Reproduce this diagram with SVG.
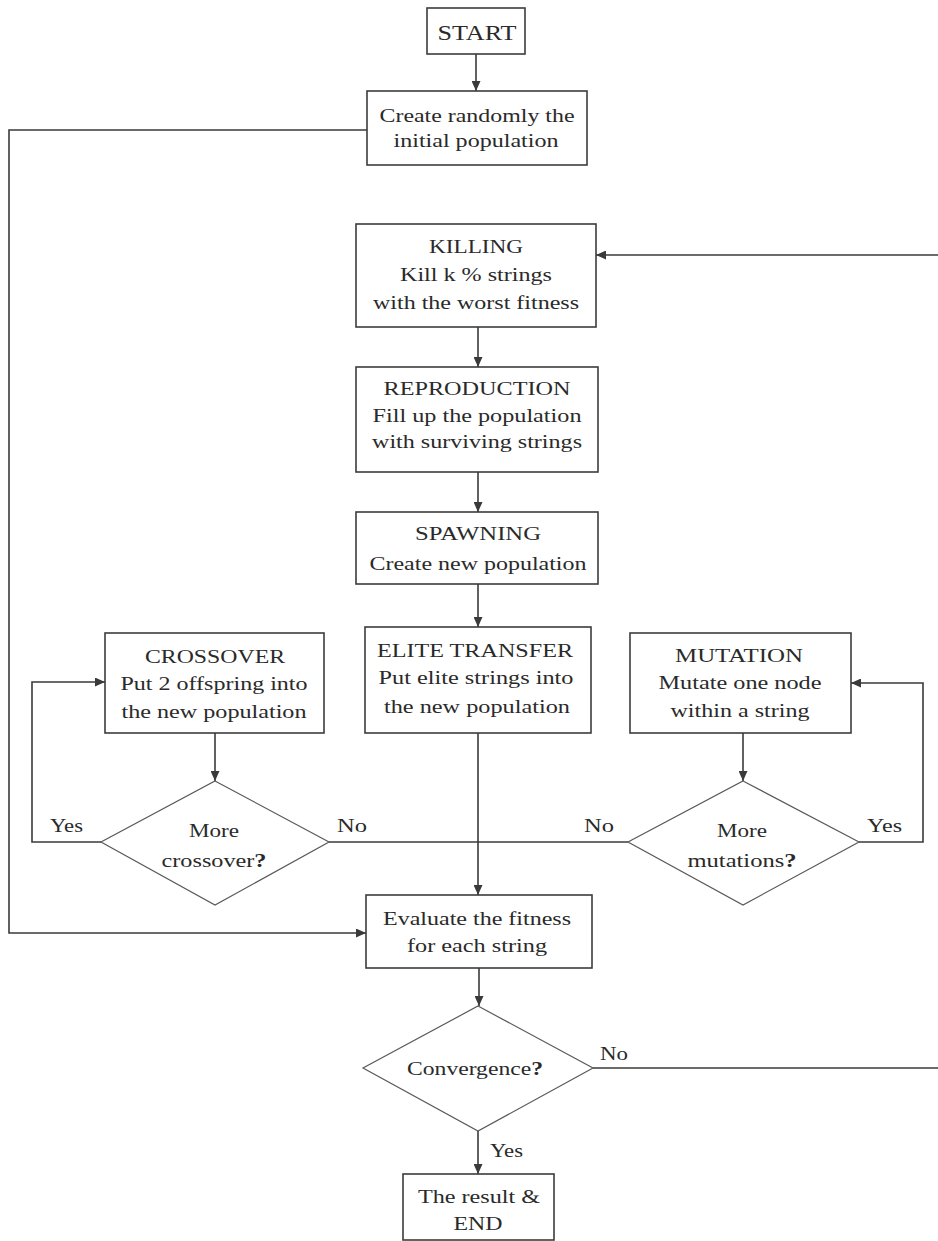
<svg xmlns="http://www.w3.org/2000/svg" width="938" height="1241" viewBox="0 0 938 1241">
<style>
  .box { fill: #ffffff; stroke: #3c3c3c; stroke-width: 1.6; }
  .dia { fill: #ffffff; stroke: #5a5a5a; stroke-width: 1.2; }
  .t { font-family: "Liberation Serif", "Times New Roman", serif; font-size: 19px; fill: #2a2a2a; text-anchor: middle; }
  .lbl { font-family: "Liberation Serif", "Times New Roman", serif; font-size: 19px; fill: #2a2a2a; }
  .q { font-weight: bold; }
  .ln { fill: none; stroke: #3a3a3a; stroke-width: 1.6; }
  .arr { marker-end: url(#ah); }
</style>
<defs>
  <marker id="ah" markerUnits="userSpaceOnUse" markerWidth="11" markerHeight="9" refX="10" refY="4.5" orient="auto">
    <path d="M0,0 L10,4.5 L0,9 z" fill="#3a3a3a"/>
  </marker>
</defs>
<rect width="938" height="1241" fill="#ffffff"/>

<g id="connectors">
  <path class="ln arr" d="M476,54 L476,91"/>
  <path class="ln arr" d="M367,130 L9,130 L9,933 L366,933"/>
  <path class="ln arr" d="M938,255 L596,255"/>
  <path class="ln arr" d="M478,327 L478,367"/>
  <path class="ln arr" d="M478,472 L478,512"/>
  <path class="ln arr" d="M478,584 L478,627"/>
  <path class="ln arr" d="M478,733 L478,895"/>
  <path class="ln arr" d="M215,733 L215,781"/>
  <path class="ln arr" d="M101,842 L32,842 L32,682 L105,682"/>
  <path class="ln" d="M329,842 L628,842"/>
  <path class="ln arr" d="M743,733 L743,781"/>
  <path class="ln arr" d="M859,842 L923,842 L923,683 L851,683"/>
  <path class="ln arr" d="M479,968 L479,1006"/>
  <path class="ln" d="M593,1068 L938,1068"/>
  <path class="ln arr" d="M478,1131 L478,1174"/>
  <text class="lbl" x="50" y="832" textLength="33" lengthAdjust="spacingAndGlyphs">Yes</text>
  <text class="lbl" x="337" y="832" textLength="30" lengthAdjust="spacingAndGlyphs">No</text>
  <text class="lbl" x="584" y="832" textLength="30" lengthAdjust="spacingAndGlyphs">No</text>
  <text class="lbl" x="867" y="832" textLength="35" lengthAdjust="spacingAndGlyphs">Yes</text>
  <text class="lbl" x="600" y="1060" textLength="28" lengthAdjust="spacingAndGlyphs">No</text>
  <text class="lbl" x="490" y="1157" textLength="33" lengthAdjust="spacingAndGlyphs">Yes</text>
</g>

<g id="start">
  <rect class="box" x="427" y="8" width="98" height="46"/>
  <text class="t" x="477" y="40" style="font-size:22px" textLength="79" lengthAdjust="spacingAndGlyphs">START</text>
</g>

<g id="init">
  <rect class="box" x="367" y="91" width="220" height="74"/>
  <text class="t" x="477" y="122" textLength="195" lengthAdjust="spacingAndGlyphs">Create randomly the</text>
  <text class="t" x="476" y="147" textLength="165" lengthAdjust="spacingAndGlyphs">initial population</text>
</g>

<g id="killing">
  <rect class="box" x="356" y="224" width="240" height="103"/>
  <text class="t" x="476" y="253" textLength="94" lengthAdjust="spacingAndGlyphs">KILLING</text>
  <text class="t" x="476" y="281" textLength="152" lengthAdjust="spacingAndGlyphs">Kill k % strings</text>
  <text class="t" x="476" y="309" textLength="206" lengthAdjust="spacingAndGlyphs">with the worst fitness</text>
</g>

<g id="reproduction">
  <rect class="box" x="356" y="367" width="242" height="105"/>
  <text class="t" x="477" y="395" textLength="187" lengthAdjust="spacingAndGlyphs">REPRODUCTION</text>
  <text class="t" x="477" y="422" textLength="209" lengthAdjust="spacingAndGlyphs">Fill up the population</text>
  <text class="t" x="477" y="448" textLength="210" lengthAdjust="spacingAndGlyphs">with surviving strings</text>
</g>

<g id="spawning">
  <rect class="box" x="356" y="512" width="242" height="72"/>
  <text class="t" x="478" y="540" textLength="126" lengthAdjust="spacingAndGlyphs">SPAWNING</text>
  <text class="t" x="478" y="570" textLength="217" lengthAdjust="spacingAndGlyphs">Create new population</text>
</g>

<g id="crossover">
  <rect class="box" x="105" y="633" width="219" height="100"/>
  <text class="t" x="215" y="663" textLength="140" lengthAdjust="spacingAndGlyphs">CROSSOVER</text>
  <text class="t" x="214" y="690" textLength="187" lengthAdjust="spacingAndGlyphs">Put 2 offspring into</text>
  <text class="t" x="214" y="718" textLength="185" lengthAdjust="spacingAndGlyphs">the new population</text>
</g>

<g id="elite">
  <rect class="box" x="365" y="627" width="226" height="106"/>
  <text class="t" x="475" y="657" textLength="196" lengthAdjust="spacingAndGlyphs">ELITE TRANSFER</text>
  <text class="t" x="476" y="684" textLength="195" lengthAdjust="spacingAndGlyphs">Put elite strings into</text>
  <text class="t" x="477" y="713" textLength="186" lengthAdjust="spacingAndGlyphs">the new population</text>
</g>

<g id="mutation">
  <rect class="box" x="630" y="633" width="221" height="100"/>
  <text class="t" x="739" y="662" textLength="128" lengthAdjust="spacingAndGlyphs">MUTATION</text>
  <text class="t" x="740" y="689" textLength="163" lengthAdjust="spacingAndGlyphs">Mutate one node</text>
  <text class="t" x="740" y="717" textLength="139" lengthAdjust="spacingAndGlyphs">within a string</text>
</g>

<g id="more-crossover">
  <polygon class="dia" points="215,781 329,842 215,905 101,842"/>
  <text class="t" x="214" y="837" textLength="50" lengthAdjust="spacingAndGlyphs">More</text>
  <text class="t" x="214" y="867" textLength="105" lengthAdjust="spacingAndGlyphs">crossover<tspan class="q">?</tspan></text>
</g>

<g id="more-mutations">
  <polygon class="dia" points="743,781 859,842 743,905 628,842"/>
  <text class="t" x="742" y="837" textLength="50" lengthAdjust="spacingAndGlyphs">More</text>
  <text class="t" x="742" y="867" textLength="109" lengthAdjust="spacingAndGlyphs">mutations<tspan class="q">?</tspan></text>
</g>

<g id="evaluate">
  <rect class="box" x="366" y="895" width="226" height="73"/>
  <text class="t" x="477" y="925" textLength="188" lengthAdjust="spacingAndGlyphs">Evaluate the fitness</text>
  <text class="t" x="477" y="952" textLength="140" lengthAdjust="spacingAndGlyphs">for each string</text>
</g>

<g id="convergence">
  <polygon class="dia" points="478,1006 593,1068 478,1131 363,1068"/>
  <text class="t" x="475" y="1075" textLength="136" lengthAdjust="spacingAndGlyphs">Convergence<tspan class="q">?</tspan></text>
</g>

<g id="end">
  <rect class="box" x="403" y="1174" width="151" height="66"/>
  <text class="t" x="479" y="1203" textLength="122" lengthAdjust="spacingAndGlyphs">The result &amp;</text>
  <text class="t" x="478" y="1230" textLength="49" lengthAdjust="spacingAndGlyphs">END</text>
</g>
</svg>
